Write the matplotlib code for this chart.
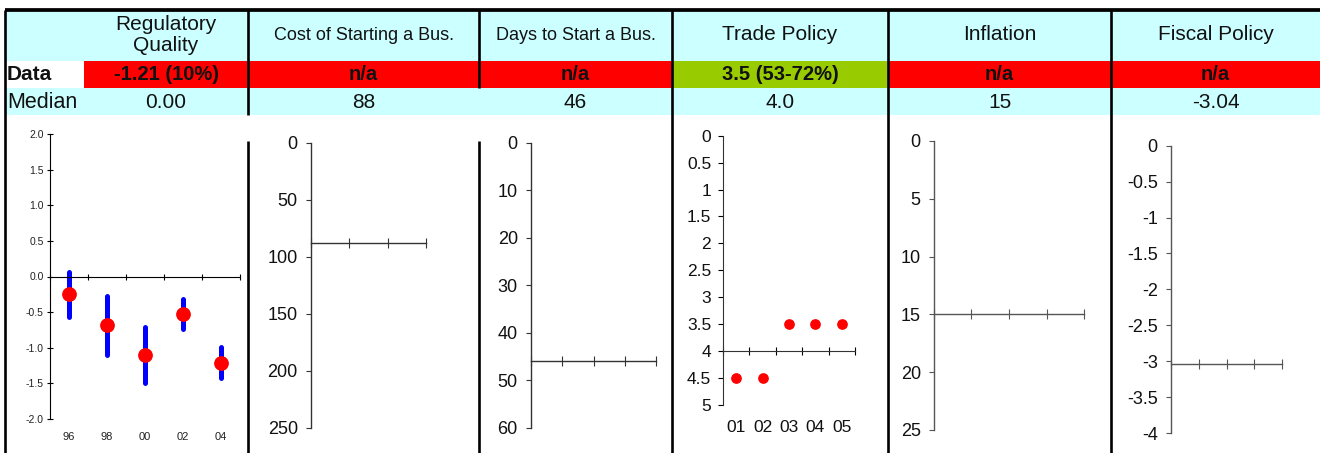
import numpy as np
import matplotlib
matplotlib.use('Agg')
import matplotlib.pyplot as plt
from matplotlib.patches import Rectangle

plt.rcParams['font.family'] = ['Liberation Sans', 'DejaVu Sans']
plt.rcParams['axes.unicode_minus'] = False

# table contents
titles = ['Regulatory\nQuality', 'Cost of Starting a Bus.', 'Days to Start a Bus.',
          'Trade Policy', 'Inflation', 'Fiscal Policy']
data_labels = ['-1.21 (10%)', 'n/a', 'n/a', '3.5 (53-72%)', 'n/a', 'n/a']
data_status = ['fail', 'fail', 'fail', 'pass', 'fail', 'fail']
median_labels = ['0.00', '88', '46', '4.0', '15', '-3.04']
medians = [0.0, 88, 46, 4.0, 15, -3.04]

# regulatory quality (score with range)
reg_years = ['96', '98', '00', '02', '04']
reg_score = [-0.24, -0.68, -1.10, -0.52, -1.21]
reg_low = [-0.57, -1.10, -1.49, -0.74, -1.42]
reg_high = [0.06, -0.27, -0.71, -0.32, -0.99]

# trade policy
trade_years = ['01', '02', '03', '04', '05']
trade_score = [4.5, 4.5, 3.5, 3.5, 3.5]

# empty indicators: y range (lo, hi, step) and number of periods
empty_ranges = [(0, 250, 50), (0, 60, 10), (0, 25, 5), (-4, 0, 0.5)]
empty_periods = [3, 4, 4, 4]

status_color = {'fail': '#ff0000', 'pass': '#99cc00'}
cyan = '#ccffff'

W, H = 1320, 453
fig = plt.figure(figsize=(W / 100, H / 100), dpi=100)

bg = fig.add_axes([0, 0, 1, 1])
bg.set_xlim(0, W)
bg.set_ylim(H, 0)
bg.axis('off')

col_edges = [84, 248, 479, 672, 888, 1111, 1320]
col_centers = [(a + b) / 2 for a, b in zip(col_edges[:-1], col_edges[1:])]

# rows
bg.add_patch(Rectangle((5, 10), W - 5, 51, color=cyan, lw=0))
bg.add_patch(Rectangle((5, 88), W - 5, 27, color=cyan, lw=0))
for i in range(len(titles)):
    c = status_color[data_status[i]]
    bg.add_patch(Rectangle((col_edges[i], 61), col_edges[i + 1] - col_edges[i], 27, color=c, lw=0))

for i, t in enumerate(titles):
    fs = 13 if 'Bus.' in t else 15
    bg.text(col_centers[i], 35, t, ha='center', va='center', fontsize=fs, linespacing=1.1, color='#111111')
    bg.text(col_centers[i], 75, data_labels[i], ha='center', va='center', fontsize=14.5, fontweight='bold', color='#111111')
    bg.text(col_centers[i], 102, median_labels[i], ha='center', va='center', fontsize=15, color='#111111')
bg.text(7, 75, 'Data', ha='left', va='center', fontsize=15, fontweight='bold', color='#111111')
bg.text(7, 102, 'Median', ha='left', va='center', fontsize=15.5, color='#111111')

# grid lines
bg.plot([5, W], [10, 10], color='k', lw=2.7, solid_capstyle='butt')
bg.vlines([5, 672, 888, 1111], 10, H, color='k', lw=1.9)
bg.vlines([248], 10, 115, color='k', lw=1.9)
bg.vlines([479], 10, 88, color='k', lw=1.9)
bg.vlines([248, 479], 141, H, color='k', lw=1.9)


def px_axes(left, top, right, bottom):
    ax = fig.add_axes([left / W, 1 - bottom / H, (right - left) / W, (bottom - top) / H])
    ax.set_facecolor('none')
    ax.spines['top'].set_visible(False)
    ax.spines['right'].set_visible(False)
    return ax


# Regulatory Quality
ax1 = px_axes(50, 134, 240, 419)
x = np.arange(len(reg_years)) + 0.5
ax1.vlines(x, reg_low, reg_high, color='#0000ff', lw=3.6, capstyle='round', zorder=2)
ax1.plot(x, reg_score, 'o', color='#ff0000', ms=9.6, zorder=3)
ax1.set_xlim(0, len(reg_years))
ax1.set_ylim(-2, 2)
ax1.spines['bottom'].set_position(('data', 0))
ax1.set_xticks(np.arange(len(reg_years) + 1))
ax1.set_xticklabels([])
ax1.tick_params(axis='x', direction='inout', length=5, width=0.8)
ax1.set_yticks(np.arange(-2, 2.01, 0.5))
ax1.yaxis.set_major_formatter('{x:.1f}')
ax1.tick_params(axis='y', direction='inout', length=5, width=0.8, labelsize=7.5, pad=2, labelcolor='#222222')
sec = ax1.secondary_xaxis('bottom')
sec.set_xticks(x, reg_years)
sec.tick_params(length=0, labelsize=8, pad=9, labelcolor='#222222')
sec.spines['bottom'].set_visible(False)

# empty indicators
boxes = [(311, 142.7, 426, 428), (531, 142.7, 656, 428), (934, 141, 1084, 430), (1171, 145.7, 1282, 433)]
empty_medians = [medians[1], medians[2], medians[4], medians[5]]
spine_cols = ['#333333', '#333333', '#555555', '#555555']
for box, (lo, hi, step), n, med, sc in zip(boxes, empty_ranges, empty_periods, empty_medians, spine_cols):
    ax = px_axes(*box)
    ax.set_xlim(0, n)
    if lo < 0:
        ax.set_ylim(lo, hi)
    else:
        ax.set_ylim(hi, lo)
    ax.spines['bottom'].set_position(('data', med))
    for s in ('left', 'bottom'):
        ax.spines[s].set_color(sc)
        ax.spines[s].set_linewidth(1.0)
    ax.set_xticks(np.arange(n + 1))
    ax.set_xticklabels([])
    ax.tick_params(axis='x', direction='inout', length=7, width=0.8, color=sc)
    ax.set_yticks(np.arange(lo, hi + step / 2, step))
    ax.yaxis.set_major_formatter('{x:g}')
    ax.tick_params(axis='y', direction='out', length=3.5, width=0.8, color=sc, labelsize=13, pad=6,
                   labelcolor='#111111')

# Trade Policy
ax4 = px_axes(723, 135.7, 855, 405)
xt = np.arange(len(trade_years)) + 0.5
ax4.plot(xt, trade_score, 'o', color='#ff0000', ms=6.7)
ax4.set_xlim(0, len(trade_years))
ax4.set_ylim(5, 0)
ax4.spines['bottom'].set_position(('data', medians[3]))
for s in ('left', 'bottom'):
    ax4.spines[s].set_color('#333333')
ax4.set_xticks(np.arange(len(trade_years) + 1))
ax4.set_xticklabels([])
ax4.tick_params(axis='x', direction='inout', length=6, width=0.8)
ax4.set_yticks(np.arange(0, 5.01, 0.5))
ax4.yaxis.set_major_formatter('{x:g}')
ax4.tick_params(axis='y', direction='out', length=3.5, width=0.8, labelsize=12.5, pad=5, labelcolor='#111111')
sec4 = ax4.secondary_xaxis('bottom')
sec4.set_xticks(xt, trade_years)
sec4.tick_params(length=0, labelsize=12.5, pad=11, labelcolor='#111111')
sec4.spines['bottom'].set_visible(False)

fig.savefig('out.png', dpi=100)
